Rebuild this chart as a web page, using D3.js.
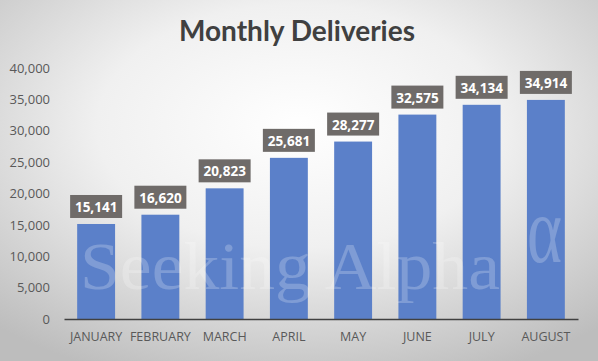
<!DOCTYPE html>
<html><head><meta charset="utf-8">
<script src="https://cdn.jsdelivr.net/npm/d3@7/dist/d3.min.js"></script>
<style>body{margin:0;}svg{display:block;}</style>
</head><body>
<svg id="c" width="598" height="361"></svg>
<script>
const months = ["JANUARY","FEBRUARY","MARCH","APRIL","MAY","JUNE","JULY","AUGUST"];
const deliveries = [15141,16620,20823,25681,28277,32575,34134,34914];
const yTicks = [0,5000,10000,15000,20000,25000,30000,35000,40000];
const title = "Monthly Deliveries";

const svg = d3.select("#c");
const W = 598, H = 361;
const defs = svg.append("defs");
const g = defs.append("radialGradient").attr("id","bg")
  .attr("cx","50%").attr("cy","35%").attr("r","75%");
g.append("stop").attr("offset","0%").attr("stop-color","#ffffff");
g.append("stop").attr("offset","45%").attr("stop-color","#f0f0f0");
g.append("stop").attr("offset","100%").attr("stop-color","#bdbdbd");
svg.append("rect").attr("width",W).attr("height",H).attr("fill","url(#bg)");

svg.append("text").attr("x",297).attr("y",41).attr("text-anchor","middle")
  .attr("font-family","Lato, 'Open Sans', sans-serif").attr("font-weight","bold")
  .attr("font-size",28).attr("fill","#404040").text(title);

const x = d3.scaleBand().domain(months).range([64,578]).paddingInner(0.41).paddingOuter(0.205);
const y = d3.scaleLinear().domain([0,40000]).range([319,68]);

const yAxis = svg.append("g").attr("transform","translate(50,0)")
  .call(d3.axisLeft(y).tickValues(yTicks).tickSize(0).tickPadding(0).tickFormat(d3.format(",")));
yAxis.select(".domain").remove();
yAxis.selectAll("text").attr("font-family","'Open Sans', sans-serif").attr("font-size",13).attr("fill","#595959");

svg.append("g").selectAll("rect").data(deliveries).join("rect")
  .attr("x",(d,i)=>x(months[i])).attr("width",x.bandwidth())
  .attr("y",d=>y(d)).attr("height",d=>y(0)-y(d))
  .attr("fill","#5B80C9");

const xAxis = svg.append("g").attr("transform","translate(0,319)")
  .call(d3.axisBottom(x).tickSize(0).tickPadding(13));
xAxis.select(".domain").attr("stroke","#404040").attr("stroke-width",1.5);
xAxis.selectAll("text").attr("font-family","'Open Sans', sans-serif").attr("font-size",12.5).attr("fill","#595959");

// watermark
const wm = svg.append("g").attr("fill","#ffffff").attr("fill-opacity",0.22);
wm.append("text").attr("x",80).attr("y",289).attr("font-family","'Liberation Serif', serif")
  .attr("font-size",68).attr("textLength",420).attr("lengthAdjust","spacingAndGlyphs").text("Seeking Alpha");
wm.append("text").attr("x",527).attr("y",262).attr("font-family","'Liberation Serif', serif")
  .attr("font-size",95).attr("textLength",35).attr("lengthAdjust","spacingAndGlyphs").text("α");

const lab = svg.append("g").selectAll("g").data(deliveries).join("g")
  .attr("transform",(d,i)=>`translate(${x(months[i])+x.bandwidth()/2},${y(d)-6})`);
lab.append("rect").attr("x",-26).attr("y",-23).attr("width",52).attr("height",23).attr("fill","#6F6B69");
lab.append("text").attr("y",-6).attr("text-anchor","middle")
  .attr("font-family","'Open Sans', sans-serif").attr("font-weight","bold").attr("font-size",13.5)
  .attr("fill","#ffffff").text(d=>d3.format(",")(d));
</script>
</body></html>
